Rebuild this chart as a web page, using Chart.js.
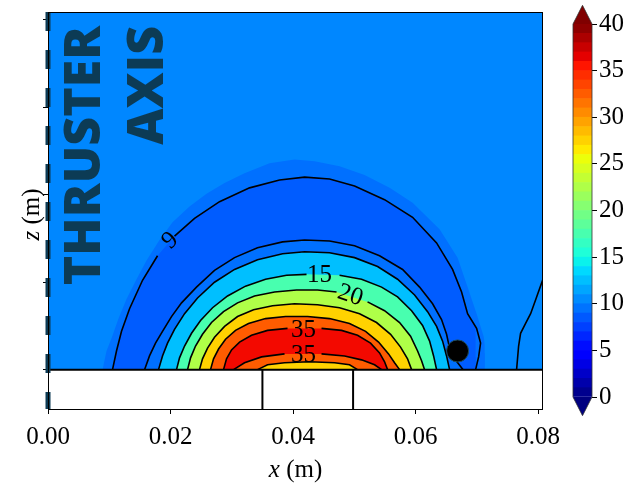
<!DOCTYPE html>
<html lang="en">
<head>
<meta charset="UTF-8">
<title>Thruster field contours</title>
<script src="https://cdn.jsdelivr.net/npm/chart.js"></script>
<style>
  html, body { margin: 0; padding: 0; background: #fff; }
  #wrap { position: relative; width: 635px; height: 486px; }
  #plot { position: absolute; left: 0; top: 0; }
  #cbar { position: absolute; left: 555px; top: 0; }
</style>
</head>
<body>
<div id="wrap">
  <canvas id="plot" width="635" height="486"></canvas>
  <canvas id="cbar" width="80" height="486"></canvas>
</div>
<script>
// axis ranges and ticks (m)
const xMin = 0, xMax = 0.0808;
const zMin = -0.0045, zMax = 0.0409;
const xTicks = [0, 0.02, 0.04, 0.06, 0.08];
const zTicks = [0, 0.01, 0.02, 0.03, 0.04];
const cbLevels = [0,1,2,3,4,5,6,7,8,9,10,11,12,13,14,15,16,17,18,19,20,21,22,23,24,25,26,27,28,29,30,31,32,33,34,35,36,37,38,39,40];
const cbTicks = [0, 5, 10, 15, 20, 25, 30, 35, 40];

// contour curves, [x, z] in metres
const edgeOuter = [[0.00890,0],[0.00955,0.00214],[0.01037,0.00360],[0.01151,0.00584],[0.01282,0.00809],[0.01445,0.01034],[0.01608,0.01247],[0.01820,0.01483],[0.02033,0.01685],[0.02310,0.01865],[0.02588,0.02011],[0.02882,0.02135],[0.03208,0.02247],[0.03616,0.02360],[0.04024,0.02404],[0.04351,0.02382],[0.04759,0.02326],[0.05167,0.02225],[0.05576,0.02079],[0.05951,0.01910],[0.06392,0.01607],[0.06686,0.01281],[0.06849,0.00944],[0.06996,0.00640],[0.07110,0.00382],[0.07159,0.00191],[0.07127,0]];
const contour9 = [[0.01053,0],[0.01118,0.00213],[0.01200,0.00438],[0.01331,0.00697],[0.01543,0.01022],[0.01788,0.01303],[0.02065,0.01528],[0.02392,0.01730],[0.02800,0.01921],[0.03290,0.02079],[0.03780,0.02169],[0.04188,0.02202],[0.04596,0.02180],[0.05004,0.02101],[0.05494,0.01944],[0.05951,0.01742],[0.06343,0.01449],[0.06604,0.01146],[0.06751,0.00888],[0.06849,0.00640],[0.06996,0.00472],[0.07061,0.00303],[0.07029,0.00146],[0.06980,0]];
const contourA = [[0.01576,0],[0.01657,0.00157],[0.01755,0.00303],[0.01869,0.00438],[0.02016,0.00607],[0.02180,0.00764],[0.02424,0.00944],[0.02718,0.01135],[0.03045,0.01281],[0.03420,0.01393],[0.03829,0.01461],[0.04188,0.01483],[0.04596,0.01472],[0.05004,0.01416],[0.05412,0.01303],[0.05788,0.01146],[0.06065,0.00944],[0.06278,0.00753],[0.06424,0.00573],[0.06506,0.00404],[0.06555,0.00247],[0.06637,0.00124],[0.06776,0]];
const contourB = [[0.01804,0],[0.01869,0.00157],[0.01951,0.00303],[0.02065,0.00461],[0.02229,0.00640],[0.02441,0.00820],[0.02718,0.01000],[0.03045,0.01146],[0.03420,0.01258],[0.03829,0.01326],[0.04188,0.01348],[0.04596,0.01337],[0.05004,0.01281],[0.05380,0.01180],[0.05706,0.01034],[0.05984,0.00854],[0.06196,0.00663],[0.06343,0.00494],[0.06441,0.00326],[0.06506,0.00157],[0.06555,0]];
const contour15 = [[0.02098,0],[0.02147,0.00135],[0.02229,0.00270],[0.02343,0.00416],[0.02490,0.00562],[0.02686,0.00708],[0.02931,0.00843],[0.03224,0.00955],[0.03551,0.01034],[0.03894,0.01079],[0.04220,0.01090],[0.04759,0.01079],[0.05118,0.01034],[0.05445,0.00944],[0.05706,0.00832],[0.05935,0.00674],[0.06114,0.00506],[0.06229,0.00326],[0.06294,0.00157],[0.06343,0]];
const contour20 = [[0.02278,0],[0.02327,0.00135],[0.02408,0.00270],[0.02522,0.00404],[0.02669,0.00539],[0.02865,0.00663],[0.03094,0.00764],[0.03371,0.00843],[0.03698,0.00888],[0.04057,0.00910],[0.04400,0.00910],[0.04710,0.00888],[0.05216,0.00775],[0.05494,0.00674],[0.05739,0.00539],[0.05918,0.00382],[0.06033,0.00213],[0.06098,0.00101],[0.06147,0]];
const contour25 = [[0.02473,0],[0.02522,0.00124],[0.02604,0.00247],[0.02718,0.00371],[0.02882,0.00494],[0.03094,0.00607],[0.03355,0.00685],[0.03665,0.00730],[0.04024,0.00753],[0.04400,0.00742],[0.04759,0.00708],[0.05086,0.00640],[0.05363,0.00539],[0.05592,0.00404],[0.05755,0.00258],[0.05869,0.00124],[0.05935,0]];
const contour30 = [[0.02653,0],[0.02702,0.00124],[0.02784,0.00236],[0.02898,0.00348],[0.03061,0.00449],[0.03273,0.00528],[0.03551,0.00584],[0.03878,0.00607],[0.04237,0.00607],[0.04596,0.00584],[0.04922,0.00528],[0.05184,0.00438],[0.05396,0.00315],[0.05559,0.00180],[0.05657,0.00079],[0.05739,0]];
const contour35 = [[0.02865,0],[0.02914,0.00124],[0.02996,0.00225],[0.03127,0.00315],[0.03322,0.00393],[0.03584,0.00449],[0.03910,0.00472],[0.04465,0.00472],[0.04792,0.00449],[0.05053,0.00393],[0.05265,0.00303],[0.05412,0.00191],[0.05494,0.00090],[0.05543,0]];
const contour35low = [[0.03029,0],[0.03208,0.00079],[0.03486,0.00146],[0.03861,0.00180],[0.04465,0.00180],[0.04841,0.00157],[0.05118,0.00112],[0.05331,0.00056],[0.05445,0]];
const contour30low = [[0.03420,0],[0.03584,0.00056],[0.03861,0.00079],[0.04269,0.00090],[0.04678,0.00079],[0.04922,0.00056],[0.05053,0]];
const contourRight = [[0.07649,0],[0.07682,0.00270],[0.07714,0.00416],[0.07796,0.00528],[0.07878,0.00640],[0.07976,0.00832],[0.08073,0.01022],[0.08150,0.01180]];

// field value of each filled band (same order as the curves)
const backgroundValue = 10.3;
const fillCurves = [edgeOuter, contour9, contourA, contourB, contour15, contour20, contour25, contour30, contour35, contour35low, contour30low];
const fillValues = [9.4, 8.6, 9.4, 12.5, 17.5, 22.5, 27.5, 32.5, 36, 32.5, 27.5];
// black contour lines, with the point index after which the inline label cuts the line
const lineCurves = [contour9, contourA, contourB, contour15, contour20, contour25, contour30, contour35, contour35low, contour30low, contourRight];
const lineGaps = [5, -1, -1, 10, 11, -1, -1, 6, 3, -1, -1];

// inline contour labels
const labelText = ['9', '15', '20', '35', '35'];
const labelX = [0.01984, 0.04433, 0.04939, 0.04171, 0.04171];
const labelZ = [0.01483, 0.01090, 0.00860, 0.00461, 0.00169];
const labelRot = [-43, 0, 18, 0, 0];

// electrode block and probe
const electrodeEdges = [0.035, 0.0498];
const probe = [0.06686, 0.00214];

// matplotlib "jet" on the 0..40 colour range
function jet(v) {
  const t = Math.min(1, Math.max(0, v / 40));
  const seg = pts => {
    for (let i = 1; i < pts.length; i++) {
      if (t <= pts[i][0]) {
        const [x0, y0] = pts[i - 1], [x1, y1] = pts[i];
        return y0 + (y1 - y0) * (t - x0) / (x1 - x0);
      }
    }
    return pts[pts.length - 1][1];
  };
  const r = seg([[0, 0], [0.35, 0], [0.66, 1], [0.89, 1], [1, 0.5]]);
  const g = seg([[0, 0], [0.125, 0], [0.375, 1], [0.64, 1], [0.91, 0], [1, 0]]);
  const b = seg([[0, 0.5], [0.11, 1], [0.34, 1], [0.65, 0], [1, 0]]);
  return `rgb(${Math.round(r * 255)},${Math.round(g * 255)},${Math.round(b * 255)})`;
}

function toPts(arr, gap) {
  const out = [];
  arr.forEach((p, i) => {
    out.push({ x: p[0], y: p[1] });
    if (i === gap) out.push({ x: (p[0] + arr[i + 1][0]) / 2, y: null });
  });
  return out;
}

const SERIF = '"Liberation Serif", "DejaVu Serif", serif';
const AXIS_COLOR = '#0c3b55';

const datasets = [];
fillCurves.forEach((c, i) => {
  datasets.push({
    data: toPts(c, -1), showLine: true, fill: 'origin',
    backgroundColor: jet(fillValues[i]), borderColor: 'transparent', borderWidth: 0,
    pointRadius: 0, order: 100 - i
  });
});
lineCurves.forEach((c, i) => {
  datasets.push({
    data: toPts(c, lineGaps[i]), showLine: true, fill: false, spanGaps: false,
    borderColor: '#000', borderWidth: 1.6, pointRadius: 0, order: 50
  });
});
// white electrode region below z = 0
datasets.push({
  data: [{ x: xMin, y: 0 }, { x: xMax, y: 0 }], showLine: true, fill: 'start',
  backgroundColor: '#fff', borderColor: '#000', borderWidth: 2, pointRadius: 0, order: 40
});
electrodeEdges.forEach(x => {
  datasets.push({
    data: [{ x: x, y: zMin }, { x: x, y: 0 }], showLine: true, fill: false,
    borderColor: '#000', borderWidth: 2, pointRadius: 0, order: 30
  });
});
// thruster axis
datasets.push({
  data: [{ x: 0, y: zMax }, { x: 0, y: zMin }], showLine: true, fill: false,
  borderColor: AXIS_COLOR, borderWidth: 5, borderDash: [19, 19], borderCapStyle: 'butt',
  pointRadius: 0, clip: false, order: 5
});
datasets.push({
  data: [{ x: probe[0], y: probe[1] }], showLine: false,
  pointRadius: 11, pointBackgroundColor: '#000', pointBorderColor: '#1f4c5c', pointBorderWidth: 1, order: 1
});

const decorations = {
  id: 'decorations',
  beforeDatasetsDraw(chart) {
    const { ctx, chartArea: a, scales: { y } } = chart;
    ctx.save();
    ctx.fillStyle = jet(backgroundValue);
    ctx.fillRect(a.left, a.top, a.right - a.left, y.getPixelForValue(0) - a.top);
    ctx.restore();
  },
  afterDatasetsDraw(chart) {
    const { ctx, chartArea: a, scales: { x, y } } = chart;
    ctx.save();
    // contour labels
    ctx.fillStyle = '#000';
    ctx.font = `25px ${SERIF}`;
    ctx.textAlign = 'center';
    ctx.textBaseline = 'middle';
    labelText.forEach((t, i) => {
      ctx.save();
      ctx.translate(x.getPixelForValue(labelX[i]), y.getPixelForValue(labelZ[i]));
      ctx.rotate(labelRot[i] * Math.PI / 180);
      ctx.fillText(t, 0, 1);
      ctx.restore();
    });
    // frame
    ctx.strokeStyle = '#000';
    ctx.lineWidth = 1;
    ctx.strokeRect(a.left + 0.5, a.top + 0.5, a.right - a.left - 1, a.bottom - a.top);
    // thruster axis caption
    ctx.fillStyle = AXIS_COLOR;
    ctx.font = '800 50px "Open Sans", sans-serif';
    ctx.textAlign = 'right';
    ctx.textBaseline = 'alphabetic';
    [['THRUSTER', 100], ['AXIS', 163]].forEach(([t, bx]) => {
      ctx.save();
      ctx.translate(bx, a.top + 14);
      ctx.rotate(-Math.PI / 2);
      ctx.fillText(t, 0, 0);
      ctx.restore();
    });
    // axis titles
    ctx.fillStyle = '#000';
    ctx.textAlign = 'left';
    const drawTitle = (sym, cx, cy, rot) => {
      ctx.save();
      ctx.translate(cx, cy);
      ctx.rotate(rot);
      ctx.font = `italic 25px ${SERIF}`;
      const w1 = ctx.measureText(sym + ' ').width;
      ctx.font = `25px ${SERIF}`;
      const w2 = ctx.measureText('(m)').width;
      const x0 = -(w1 + w2) / 2;
      ctx.font = `italic 25px ${SERIF}`;
      ctx.fillText(sym, x0, 0);
      ctx.font = `25px ${SERIF}`;
      ctx.fillText('(m)', x0 + w1, 0);
      ctx.restore();
    };
    drawTitle('x', (a.left + a.right) / 2, 477, 0);
    drawTitle('z', 39, (a.top + a.bottom) / 2 + 4, -Math.PI / 2);
    ctx.restore();
  }
};

new Chart(document.getElementById('plot'), {
  type: 'scatter',
  data: { datasets: datasets },
  options: {
    responsive: false,
    animation: false,
    layout: { padding: { top: 5, right: 92, left: 0, bottom: 0 } },
    plugins: { legend: { display: false }, tooltip: { enabled: false } },
    elements: { line: { tension: 0 } },
    scales: {
      x: {
        type: 'linear', min: xMin, max: xMax,
        afterBuildTicks: s => { s.ticks = xTicks.map(v => ({ value: v })); },
        afterFit: s => { s.height = 77; },
        ticks: { callback: v => v.toFixed(2), font: { family: SERIF, size: 25 }, color: '#000', padding: 8, maxRotation: 0, autoSkip: false },
        grid: { drawOnChartArea: false, tickLength: 5, color: '#000' },
        border: { display: false }
      },
      y: {
        type: 'linear', min: zMin, max: zMax,
        afterBuildTicks: s => { s.ticks = zTicks.map(v => ({ value: v })); },
        afterFit: s => { s.width = 48; },
        ticks: { display: false },
        grid: { drawOnChartArea: false, tickLength: 5, color: '#000' },
        border: { display: false }
      }
    }
  },
  plugins: [decorations]
});

// colour bar with extension triangles
const cbExtend = {
  id: 'cbExtend',
  afterDatasetsDraw(chart) {
    const { ctx, chartArea: a, scales: { y } } = chart;
    const top = y.getPixelForValue(40), bot = y.getPixelForValue(0);
    const h = 0.05 * (bot - top), mid = (a.left + a.right) / 2;
    ctx.save();
    ctx.fillStyle = jet(41);
    ctx.beginPath(); ctx.moveTo(a.left, top); ctx.lineTo(mid, top - h); ctx.lineTo(a.right, top); ctx.closePath(); ctx.fill();
    ctx.fillStyle = jet(-1);
    ctx.beginPath(); ctx.moveTo(a.left, bot); ctx.lineTo(mid, bot + h); ctx.lineTo(a.right, bot); ctx.closePath(); ctx.fill();
    ctx.strokeStyle = '#333';
    ctx.lineWidth = 0.8;
    ctx.beginPath();
    ctx.moveTo(a.left, top); ctx.lineTo(mid, top - h); ctx.lineTo(a.right, top);
    ctx.lineTo(a.right, bot); ctx.lineTo(mid, bot + h); ctx.lineTo(a.left, bot);
    ctx.closePath(); ctx.stroke();
    ctx.restore();
  }
};

new Chart(document.getElementById('cbar'), {
  type: 'bar',
  data: {
    labels: [''],
    datasets: cbLevels.slice(0, -1).map((lo, i) => ({
      data: [[lo, cbLevels[i + 1]]],
      backgroundColor: jet((lo + cbLevels[i + 1]) / 2),
      borderWidth: 0, grouped: false, barPercentage: 1, categoryPercentage: 1
    }))
  },
  options: {
    responsive: false,
    animation: false,
    layout: { padding: { left: 18, top: 24, bottom: 89, right: 0 } },
    plugins: { legend: { display: false }, tooltip: { enabled: false } },
    scales: {
      x: { display: false },
      y: {
        position: 'right', min: 0, max: 40,
        afterBuildTicks: s => { s.ticks = cbTicks.map(v => ({ value: v })); },
        afterFit: s => { s.width = 43; },
        ticks: { font: { family: SERIF, size: 25 }, color: '#000', padding: 2 },
        grid: { drawOnChartArea: false, tickLength: 5, color: '#000' },
        border: { display: false }
      }
    }
  },
  plugins: [cbExtend]
});
</script>
</body>
</html>
